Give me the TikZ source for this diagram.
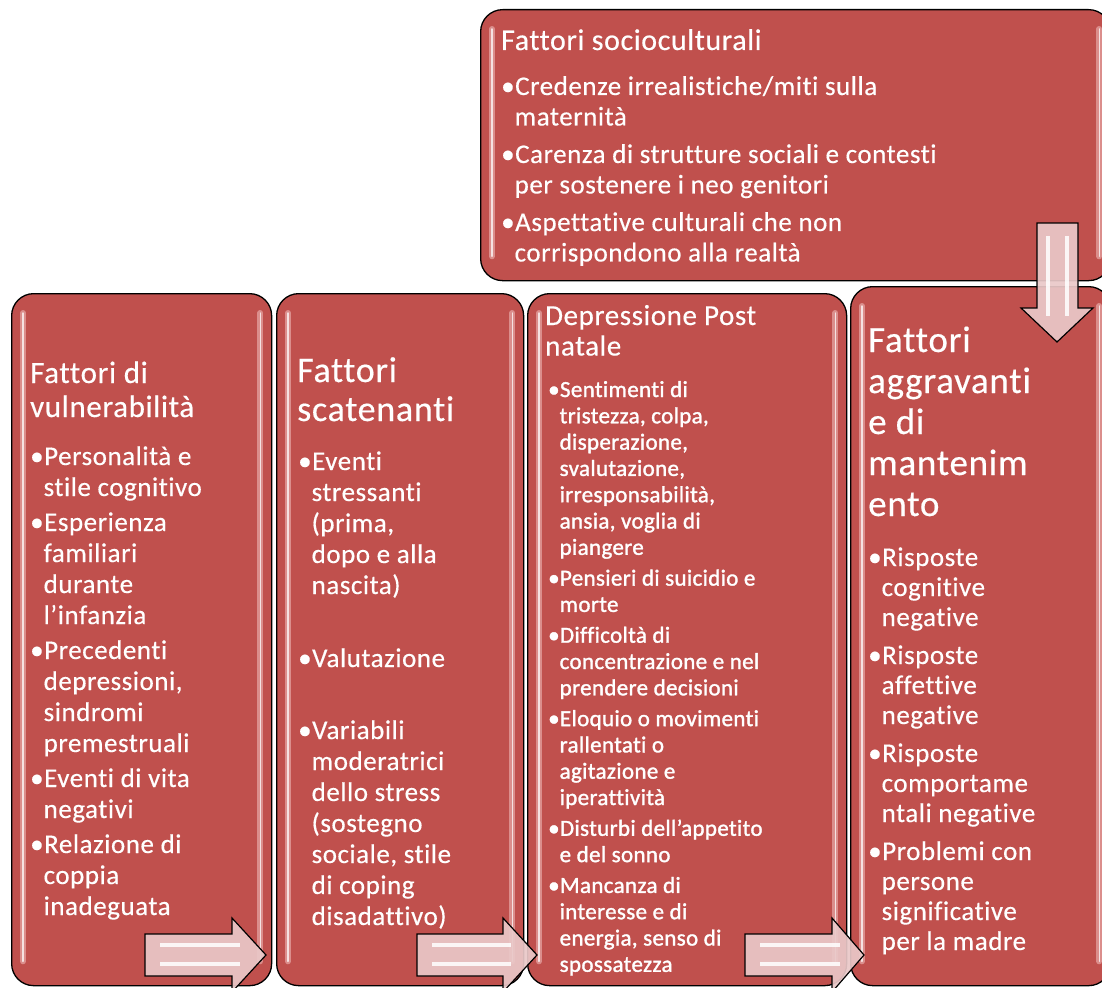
\documentclass[tikz,border=0pt]{standalone}
\usepackage{fontspec}
\setmainfont{Carlito}[Ligatures=NoCommon, LetterSpace=2, FakeBold=0.4]
\newfontfamily\denseface{Carlito}[Ligatures=NoCommon, LetterSpace=1.5, FakeBold=1.4]
\definecolor{boxred}{HTML}{C0504D}
\definecolor{glow}{HTML}{F6CDCB}
\definecolor{arrowpink}{HTML}{EAC8C8}
% one line of a bullet item, and its continuation lines
\newcommand\bitem[1]{\hbox{•#1}}
\newcommand\bcont[1]{\hbox{\phantom{•}#1}}
\newcommand\headln[1]{\hbox{#1}}
\tikzset{
  box/.style={shape=rectangle, draw=black, line width=1.3pt, fill=boxred,
    rounded corners=22pt, inner sep=0pt, anchor=north west},
  shine/.style={draw=glow, line width=6pt, line cap=round, opacity=0.5},
  shinecore/.style={draw=white, line width=1.5pt, line cap=round, opacity=0.75},
  label/.style={text=white, inner sep=0pt, anchor=base west},
  blockarrow/.style={draw=black, line width=1.2pt, fill=arrowpink,
    fill opacity=0.92, line join=miter},
  stripe/.style={draw=white, line width=3.5pt, opacity=0.85}
}
% glossy side highlights of a box
\newcommand\gloss[1]{%
  \draw[shine] ([xshift=12pt,yshift=-20pt]#1.north west) -- ([xshift=12pt,yshift=25pt]#1.south west);
  \draw[shinecore] ([xshift=12pt,yshift=-20pt]#1.north west) -- ([xshift=12pt,yshift=25pt]#1.south west);
  \draw[shine] ([xshift=-12pt,yshift=-20pt]#1.north east) -- ([xshift=-12pt,yshift=25pt]#1.south east);
  \draw[shinecore] ([xshift=-12pt,yshift=-20pt]#1.north east) -- ([xshift=-12pt,yshift=25pt]#1.south east);
}
\begin{document}
\begin{tikzpicture}[x=1pt,y=-1pt]
\useasboundingbox (0,0) rectangle (1102,987);
\fill[white] (0,0) rectangle (1102,987);
\clip (0,0) rectangle (1102,987);

% boxes
\node[box, minimum width=630pt, minimum height=271pt] (soc) at (480,9) {};
\node[box, minimum width=260pt, minimum height=692pt] (vul) at (11,293) {};
\node[box, minimum width=247pt, minimum height=692pt] (sca) at (276,293) {};
\node[box, minimum width=319pt, minimum height=692pt] (dep) at (527,293) {};
\node[box, minimum width=260pt, minimum height=699pt] (agg) at (850,286) {};
\gloss{soc}\gloss{vul}\gloss{sca}\gloss{dep}\gloss{agg}

% socio-cultural factors
\node[label, font=\fontsize{30}{34}\selectfont] (socT) at (501,50)
  {\vtop{\headln{Fattori socioculturali}}};
\node[label, font=\fontsize{27}{30.5}\selectfont] (socL) at (501,95)
  {\vtop{\bitem{Credenze irrealistiche/miti sulla}\bcont{maternità}\vskip7pt
   \bitem{Carenza di strutture sociali e contesti}\bcont{per sostenere i neo genitori}\vskip7pt
   \bitem{Aspettative culturali che non}\bcont{corrispondono alla realtà}}};

% vulnerability factors
\node[label, font=\fontsize{31}{34}\selectfont] (vulT) at (30,383)
  {\vtop{\headln{Fattori di}\headln{vulnerabilità}}};
\node[label, font=\fontsize{27}{31}\selectfont] (vulL) at (30,465)
  {\vtop{\bitem{Personalità e}\bcont{stile cognitivo}\vskip4pt
   \bitem{Esperienza}\bcont{familiari}\bcont{durante}\bcont{l’infanzia}\vskip4pt
   \bitem{Precedenti}\bcont{depressioni,}\bcont{sindromi}\bcont{premestruali}\vskip4pt
   \bitem{Eventi di vita}\bcont{negativi}\vskip4pt
   \bitem{Relazione di}\bcont{coppia}\bcont{inadeguata}}};

% triggering factors
\node[label, font=\fontsize{36}{39}\selectfont] (scaT) at (297,382)
  {\vtop{\headln{Fattori}\headln{scatenanti}}};
\node[label, font=\fontsize{27}{31}\selectfont] (scaL) at (298,470)
  {\vtop{\bitem{Eventi}\bcont{stressanti}\bcont{(prima,}\bcont{dopo e alla}\bcont{nascita)}\vskip42pt
   \bitem{Valutazione}\vskip41pt
   \bitem{Variabili}\bcont{moderatrici}\bcont{dello stress}\bcont{(sostegno}\bcont{sociale, stile}\bcont{di coping}\bcont{disadattivo)}}};

% postnatal depression
\node[label, font=\fontsize{29}{30.5}\selectfont] (depT) at (545,325)
  {\vtop{\headln{Depressione Post}\headln{natale}}};
\node[label, font=\denseface\fontsize{23}{26.3}\selectfont] (depL) at (548,397)
  {\vtop{\bitem{Sentimenti di}\bcont{tristezza, colpa,}\bcont{disperazione,}\bcont{svalutazione,}\bcont{irresponsabilità,}\bcont{ansia, voglia di}\bcont{piangere}\vskip4.5pt
   \bitem{Pensieri di suicidio e}\bcont{morte}\vskip4.5pt
   \bitem{Difficoltà di}\bcont{concentrazione e nel}\bcont{prendere decisioni}\vskip4.5pt
   \bitem{Eloquio o movimenti}\bcont{rallentati o}\bcont{agitazione e}\bcont{iperattività}\vskip4.5pt
   \bitem{Disturbi dell’appetito}\bcont{e del sonno}\vskip4.5pt
   \bitem{Mancanza di}\bcont{interesse e di}\bcont{energia, senso di}\bcont{spossatezza}}};

% aggravating and maintaining factors
\node[label, font=\fontsize{37}{41}\selectfont] (aggT) at (868,352)
  {\vtop{\headln{Fattori}\headln{aggravanti}\headln{e di}\headln{mantenim}\headln{ento}}};
\node[label, font=\fontsize{27}{30}\selectfont] (aggL) at (868,566)
  {\vtop{\bitem{Risposte}\bcont{cognitive}\bcont{negative}\vskip8pt
   \bitem{Risposte}\bcont{affettive}\bcont{negative}\vskip8pt
   \bitem{Risposte}\bcont{comportame}\bcont{ntali negative}\vskip8pt
   \bitem{Problemi con}\bcont{persone}\bcont{significative}\bcont{per la madre}}};

% block arrows between the boxes
\draw[blockarrow] (145,934) -- (232,934) -- (232,918) -- (266,955) -- (232,992) -- (232,976) -- (145,976) -- cycle;
\draw[stripe] (160,945) -- (240,945);
\draw[stripe] (160,964) -- (240,964);
\draw[blockarrow] (417,934) -- (503,934) -- (503,918) -- (537,955) -- (503,992) -- (503,976) -- (417,976) -- cycle;
\draw[stripe] (432,945) -- (511,945);
\draw[stripe] (432,964) -- (511,964);
\draw[blockarrow] (745,934) -- (832,934) -- (832,918) -- (864,955) -- (832,992) -- (832,976) -- (745,976) -- cycle;
\draw[stripe] (760,945) -- (840,945);
\draw[stripe] (760,964) -- (840,964);
\draw[blockarrow] (1037,223) -- (1078,223) -- (1078,308) -- (1093,308) -- (1057,342) -- (1021,308) -- (1037,308) -- cycle;
\draw[stripe] (1048,236) -- (1048,316);
\draw[stripe] (1067,236) -- (1067,316);
\end{tikzpicture}
\end{document}
